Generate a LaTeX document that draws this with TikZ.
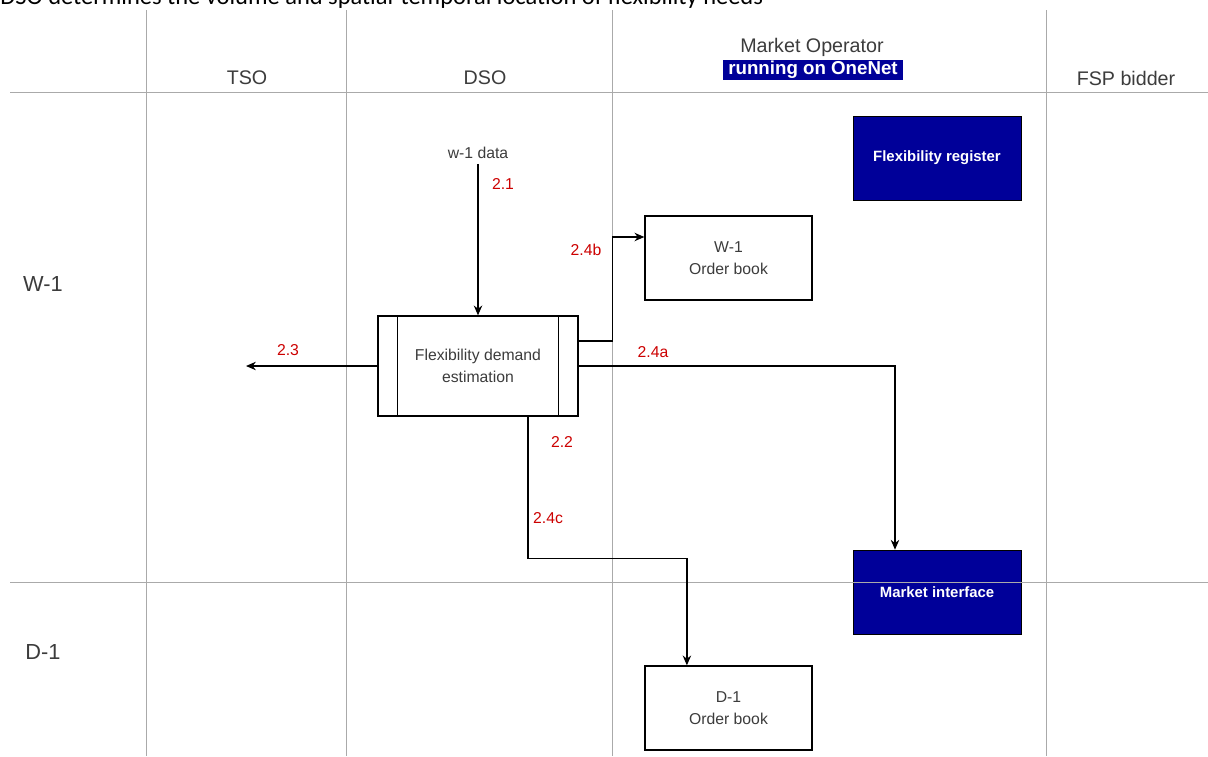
\documentclass[tikz,border=0pt]{standalone}
\usepackage{fontspec}
\setmainfont{Liberation Sans}
\newfontfamily\titlefont{Carlito}
\usepackage{tikz}
\usetikzlibrary{arrows.meta}

\definecolor{onenet}{RGB}{0,0,153}
\definecolor{lane}{RGB}{170,170,170}
\definecolor{txt}{RGB}{60,60,60}
\definecolor{flow}{RGB}{204,0,0}

\begin{document}
\begin{tikzpicture}[x=0.025cm,y=-0.025cm,
    every node/.style={text=txt,font=\fontsize{11.2}{16}\selectfont,align=center},
    box/.style={draw=black,line width=0.9pt,fill=white,minimum width=4.175cm,minimum height=2.1cm},
    onebox/.style={draw=black,fill=onenet,text=white,minimum width=4.2cm,minimum height=2.1cm,font=\fontsize{10.6}{13}\selectfont\bfseries},
    header/.style={font=\fontsize{14}{16}\selectfont},
    rowlabel/.style={font=\fontsize{15.5}{18}\selectfont},
    num/.style={text=flow},
    conn/.style={line width=0.9pt,-{Stealth[length=7pt,width=6pt]}}]
    \useasboundingbox (0,0) rectangle (1208,756);

    \node[anchor=base west,inner sep=0,text=black,font=\titlefont\fontsize{17.4}{20}\selectfont] (title) at (0,5)
        {DSO determines the volume and spatial-temporal location of flexibility needs};

    \node[header] (tso) at (247,78) {TSO};
    \node[header] (dso) at (485,78) {DSO};
    \node[header] (mo) at (812,47) {Market Operator};
    \node[header,fill=onenet,text=white,font=\fontsize{13.3}{15}\selectfont\bfseries,inner sep=0,minimum width=4.5cm,minimum height=0.5cm] (onenet) at (813,70) {running on OneNet};
    \node[header] (fsp) at (1126,78) {FSP bidder};
    \node[rowlabel] (w1) at (43,284) {W-1};
    \node[rowlabel] (d1) at (43,652) {D-1};

    \node[onebox] (fr) at (937,158) {Flexibility register};
    \node[box] (w1ob) at (728.5,258) {W-1\\Order book};
    \node[box,minimum width=5cm,minimum height=2.5cm] (fde) at (478,366) {Flexibility demand\\estimation};
    \draw[line width=0.9pt] ([xshift=0.5cm]fde.north west) -- ([xshift=0.5cm]fde.south west)
        ([xshift=-0.5cm]fde.north east) -- ([xshift=-0.5cm]fde.south east);
    \node[onebox] (mi) at (937,592) {Market interface};
    \node[box] (d1ob) at (728.5,708) {D-1\\Order book};

    \draw[lane] (146,10) -- (146,756) (346,10) -- (346,756) (612,10) -- (612,756) (1046,10) -- (1046,756);
    \draw[lane] (10,92) -- (1208,92) (10,582) -- (1208,582);

    \node (wdata) at (478,153) {w-1 data};
    \coordinate (tsoend) at (246,366);
    \draw[conn] (wdata.south -| fde.north) -- (fde.north);
    \draw[conn] ([yshift=0.625cm]fde.east) -- ++(34,0) |- ([yshift=0.525cm]w1ob.west);
    \draw[conn] (fde.east) -| ([xshift=-1.05cm]mi.north);
    \draw[conn] (fde.west) -- (tsoend);
    \draw[conn] ([xshift=1.25cm]fde.south) -- ++(0,142) -| ([xshift=-1.04cm]d1ob.north);

    \node[num] (f21) at (503,184) {2.1};
    \node[num] (f24b) at (586,250) {2.4b};
    \node[num] (f24a) at (653,352) {2.4a};
    \node[num] (f23) at (288,350) {2.3};
    \node[num] (f22) at (562,442) {2.2};
    \node[num] (f24c) at (548,518) {2.4c};
\end{tikzpicture}
\end{document}
